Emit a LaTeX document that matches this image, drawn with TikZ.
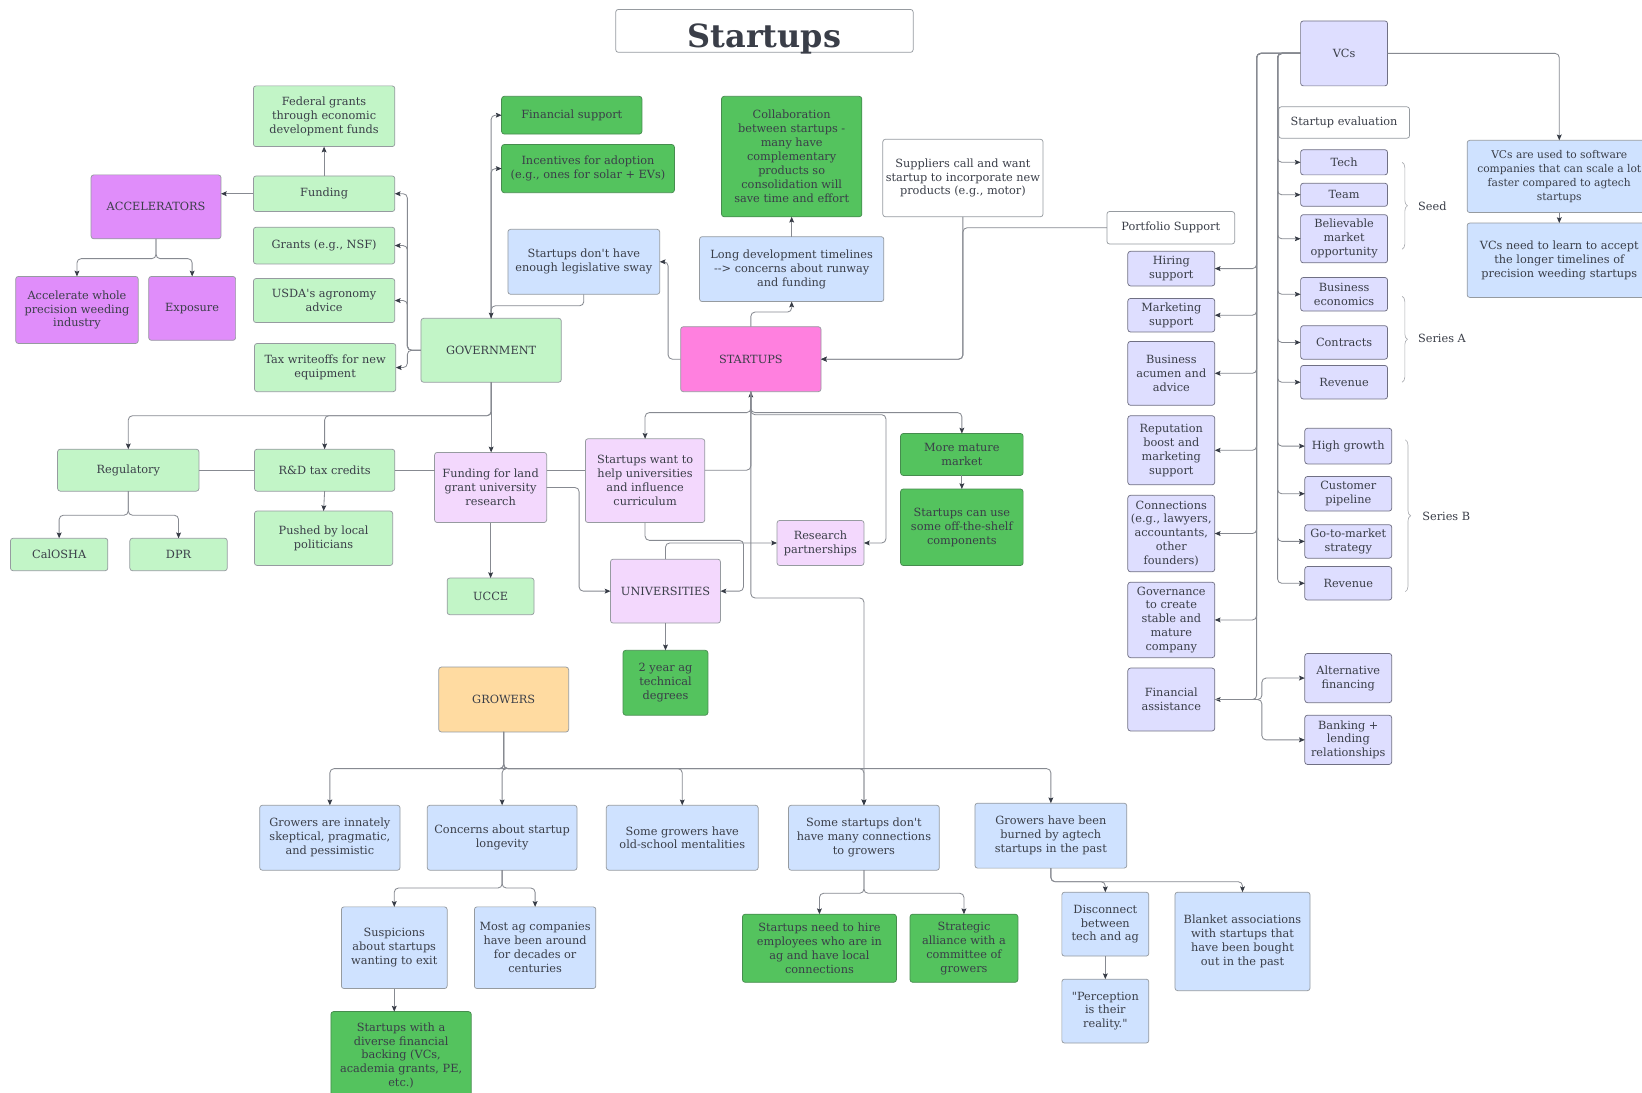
\documentclass[tikz,border=0pt]{standalone}
\usepackage{fontspec}
\setmainfont{DejaVu Serif}
\usetikzlibrary{arrows.meta,decorations.pathreplacing,calc}

\definecolor{txt}{RGB}{58,62,72}
\definecolor{bdr}{RGB}{150,155,160}
\definecolor{bdrd}{RGB}{112,112,132}
\definecolor{lgf}{RGB}{194,245,199}
\definecolor{dgf}{RGB}{84,195,94}
\definecolor{dgb}{RGB}{70,140,78}
\definecolor{lbf}{RGB}{207,226,255}
\definecolor{lavf}{RGB}{222,222,255}
\definecolor{purf}{RGB}{224,141,250}
\definecolor{lpf}{RGB}{243,216,253}
\definecolor{pinkf}{RGB}{255,128,223}
\definecolor{orf}{RGB}{255,219,161}
\definecolor{lnc}{RGB}{135,138,145}
\definecolor{arrc}{RGB}{55,60,70}

\newcommand\sq{\XeTeXglyph\XeTeXcharglyph"22\relax}
\newcommand\ap{\XeTeXglyph\XeTeXcharglyph"27\relax}

\tikzset{
  box/.style={draw=bdr, line width=0.7pt, rounded corners=2.5pt, inner sep=1pt, outer sep=0pt,
    align=center, text=txt, font=\fontsize{10.8}{13.3}\selectfont},
  lg/.style={box, fill=lgf},
  dg/.style={box, fill=dgf, draw=dgb},
  lb/.style={box, fill=lbf},
  lav/.style={box, fill=lavf, draw=bdrd},
  pur/.style={box, fill=purf},
  lp/.style={box, fill=lpf},
  pk/.style={box, fill=pinkf},
  orb/.style={box, fill=orf},
  wb/.style={box, fill=white},
  conn/.style={draw=lnc, line width=0.8pt, rounded corners=4pt},
  arr/.style={conn, -{Stealth[length=5.5pt,width=4.6pt,inset=1pt,color=arrc]}},
  brc/.style={draw=lnc!70, line width=0.6pt, decorate, decoration={brace,amplitude=5pt}},
  lbl/.style={anchor=west, text=txt, inner sep=0pt, font=\fontsize{10.8}{13.3}\selectfont}
}

\newcommand\bx[7]{\node[#1,minimum width={(#5)-(#3)},minimum height={(#6)-(#4)}] (#2) at ({((#3)+(#5))/2},{((#4)+(#6))/2}) {#7};}

\begin{document}
\begin{tikzpicture}[x=1pt,y=-1pt]
\useasboundingbox (0,0) rectangle (1568,1043);
\clip (0,0) rectangle (1568,1043);
\fill[white] (0,0) rectangle (1568,1043);

% title
\node[wb, font=\fontsize{30.5}{32}\bfseries\selectfont, text height=31pt, text depth=0pt,
  minimum width=284, minimum height=41] (title) at (730,29.5) {Startups};

% left cluster
\bx{lg}{fed}{242}{82}{377}{140}{Federal grants\\through economic\\development funds}
\bx{lg}{fund}{242}{168}{377}{202}{Funding}
\bx{lg}{grants}{242}{217}{377}{252}{Grants (e.g., NSF)}
\bx{lg}{usda}{242}{266}{377}{308}{USDA\ap s agronomy\\advice}
\bx{lg}{tax}{243}{328}{378}{374}{Tax writeoffs for new\\equipment}
\bx{pur}{acc}{87}{167}{211}{228}{ACCELERATORS}
\bx{pur}{accw}{15}{264}{132}{328}{Accelerate whole\\precision weeding\\industry}
\bx{pur}{expo}{142}{264}{225}{325}{Exposure}
\bx{lg}{gov}{402}{304}{536}{365}{GOVERNMENT}
\bx{dg}{fin}{479}{92}{613}{128}{Financial support}
\bx{dg}{inc}{479}{138}{644}{184}{Incentives for adoption\\(e.g., ones for solar + EVs)}
\bx{lb}{sway}{485}{219}{630}{281}{Startups don\ap t have\\enough legislative sway}
\bx{dg}{collab}{689}{92}{823}{207}{Collaboration\\between startups -\\many have\\complementary\\products so\\consolidation will\\save time and effort}
\bx{lb}{longdev}{668}{226}{844}{288}{Long development timelines\\-{}-> concerns about runway\\and funding}
\bx{wb}{sup}{843}{133}{996}{207}{Suppliers call and want\\startup to incorporate new\\products (e.g., motor)}
\bx{pk}{st}{650}{312}{784}{374}{STARTUPS}
\bx{wb}{port}{1057}{202}{1179}{233}{Portfolio Support}

% VCs
\bx{lav}{vcs}{1242}{20}{1325}{82}{VCs}
\bx{wb}{seval}{1221}{102}{1346}{132}{Startup evaluation}
\bx{lav}{tech}{1242}{143}{1325}{167}{Tech}
\bx{lav}{team}{1242}{175}{1325}{197}{Team}
\bx{lav}{bel}{1242}{205}{1325}{251}{Believable\\market\\opportunity}
\bx{lav}{bec}{1242}{265}{1325}{297}{Business\\economics}
\bx{lav}{contr}{1242}{311}{1325}{343}{Contracts}
\bx{lav}{reva}{1242}{349}{1325}{381}{Revenue}
\bx{lav}{hg}{1246}{409}{1329}{443}{High growth}
\bx{lav}{cp}{1246}{455}{1329}{488}{Customer\\pipeline}
\bx{lav}{gtm}{1246}{501}{1329}{533}{Go-to-market\\strategy}
\bx{lav}{revb}{1246}{541}{1329}{573}{Revenue}
\bx{lav}{alt}{1246}{624}{1329}{671}{Alternative\\financing}
\bx{lav}{bank}{1246}{683}{1329}{730}{Banking +\\lending\\relationships}
\bx{lav}{hire}{1077}{240}{1160}{273}{Hiring\\support}
\bx{lav}{mkt}{1077}{285}{1160}{317}{Marketing\\support}
\bx{lav}{acum}{1077}{326}{1160}{387}{Business\\acumen and\\advice}
\bx{lav}{rep}{1077}{397}{1160}{463}{Reputation\\boost and\\marketing\\support}
\bx{lav}{conn}{1077}{473}{1160}{546}{Connections\\(e.g., lawyers,\\accountants,\\other\\founders)}
\bx{lav}{govn}{1077}{556}{1160}{628}{Governance\\to create\\stable and\\mature\\company}
\bx{lav}{fa}{1077}{638}{1160}{698}{Financial\\assistance}
\bx{lb}{vcsw}{1401}{134}{1577}{203}{\fontsize{10.2}{13.3}\selectfont VCs are used to software\\\fontsize{10.2}{13.3}\selectfont companies that can scale a lot\\\fontsize{10.2}{13.3}\selectfont faster compared to agtech\\\fontsize{10.2}{13.3}\selectfont startups}
\bx{lb}{vcl}{1401}{213}{1577}{284}{VCs need to learn to accept\\the longer timelines of\\precision weeding startups}

\draw[brc] (1339,155) -- (1339,238);
\draw[brc] (1339,283) -- (1339,365);
\draw[brc] (1342,420) -- (1342,565);
\node[lbl] (seed) at (1354,197) {Seed};
\node[lbl] (sera) at (1354,323) {Series A};
\node[lbl] (serb) at (1358,493) {Series B};

% middle
\bx{lg}{reg}{55}{429}{190}{469}{Regulatory}
\bx{lg}{rd}{243}{429}{377}{469}{R\&D tax credits}
\bx{lp}{fland}{415}{432}{522}{499}{Funding for land\\grant university\\research}
\bx{lp}{swant}{559}{419}{673}{499}{Startups want to\\help universities\\and influence\\curriculum}
\bx{lp}{rp}{742}{497}{825}{540}{Research\\partnerships}
\bx{dg}{mm}{860}{414}{977}{454}{More mature\\market}
\bx{dg}{ots}{860}{467}{977}{540}{Startups can use\\some off-the-shelf\\components}
\bx{lg}{cal}{10}{514}{103}{545}{CalOSHA}
\bx{lg}{dpr}{124}{514}{217}{545}{DPR}
\bx{lg}{push}{243}{488}{375}{540}{Pushed by local\\politicians}
\bx{lg}{ucce}{427}{552}{510}{587}{UCCE}
\bx{lp}{univ}{583}{534}{688}{595}{UNIVERSITIES}
\bx{dg}{twoy}{595}{621}{676}{683}{2 year ag\\technical\\degrees}
\bx{orb}{grow}{419}{637}{543}{699}{GROWERS}

% bottom
\bx{lb}{gsk}{248}{769}{382}{831}{Growers are innately\\skeptical, pragmatic,\\and pessimistic}
\bx{lb}{conc}{408}{769}{551}{831}{Concerns about startup\\longevity}
\bx{lb}{old}{579}{769}{724}{831}{Some growers have\\old-school mentalities}
\bx{lb}{sdc}{753}{769}{897}{831}{Some startups don\ap t\\have many connections\\to growers}
\bx{lb}{burn}{931}{767}{1076}{829}{Growers have been\\burned by agtech\\startups in the past}
\bx{lb}{susp}{326}{866}{427}{944}{Suspicions\\about startups\\wanting to exit}
\bx{lb}{most}{453}{866}{569}{944}{Most ag companies\\have been around\\for decades or\\centuries}
\bx{dg}{div}{316}{966}{450}{1050}{Startups with a\\diverse financial\\backing (VCs,\\academia grants, PE,\\etc.)}
\bx{dg}{hire2}{709}{873}{856}{938}{Startups need to hire\\employees who are in\\ag and have local\\connections}
\bx{dg}{strat}{869}{873}{972}{938}{Strategic\\alliance with a\\committee of\\growers}
\bx{lb}{disc}{1014}{852}{1097}{913}{Disconnect\\between\\tech and ag}
\bx{lb}{perc}{1014}{935}{1097}{996}{\sq Perception\\is their\\reality.\sq}
\bx{lb}{blank}{1122}{852}{1251}{946}{Blanket associations\\with startups that\\have been bought\\out in the past}

% ---------- connectors ----------
\draw[arr] (fund.north) -- (fed.south);
\draw[arr] (fund.west) -- (fund.west -| acc.east);
\draw[arr] (acc.south) -- ++(0,19) -| (accw.north);
\draw[arr] (acc.south) -- ++(0,19) -| (expo.north);

\coordinate (gvx) at (389,0);
\draw[arr] (gov.west) -- (gov.west -| gvx) |- (fund.east);
\draw[arr] (gov.west) -- (gov.west -| gvx) |- (grants.east);
\draw[arr] (gov.west) -- (gov.west -| gvx) |- (usda.east);
\draw[arr] (gov.west) -- (gov.west -| gvx) |- (tax.east);

\draw[arr] (gov.north) |- (fin.west);
\draw[arr] (gov.north) |- (inc.west);
\draw[arr] (sway.south) -- ++(0,11) -| (gov.north);

\draw[arr] (st.west) -- ++(-12,0) |- (sway.east);
\draw[arr] (st.north) -- ++(0,-14) -| (longdev.south);
\draw[arr] (longdev.north) -- (collab.south);
\draw[arr] (sup.south) |- (st.east);
\draw[arr] (port.west) -| (st.east -| sup.south) -- (st.east);

% VCs
\coordinate (vin) at (1220,51);
\coordinate (vout) at (1200,51);
\foreach \n in {tech,team,bel,bec,contr,reva,hg,cp,gtm,revb}
  \draw[arr] (vcs.west) -- (vin) |- (\n.west);
\foreach \n in {hire,mkt,acum,rep,conn,govn,fa}
  \draw[arr] (vcs.west) -- (vout) |- (\n.east);
\draw[arr] (fa.east) -- ++(45,0) |- (alt.west);
\draw[arr] (fa.east) -- ++(45,0) |- (bank.west);
\draw[arr] (vcs.east) -| (vcsw.north);
\draw[arr] (vcsw.south) -- (vcl.north);

% government down
\draw[arr] (gov.south) -- ++(0,32) -| (reg.north);
\draw[arr] (gov.south) -- ++(0,32) -| (rd.north);
\draw[arr] (gov.south) -- (gov.south |- fland.north);

\coordinate (row) at (0,449);
\draw[conn] (reg.east) -- (rd.west);
\draw[conn] (rd.east) -- (rd.east -| fland.west);
\draw[conn] (fland.east |- row) -- (swant.west |- row);
\draw[arr] (swant.east |- row) -| (st.south);
\draw[arr] (fland.east) -- ++(31,0) |- (univ.west);

\draw[arr] (st.south) -- ++(0,20) -| (swant.north);
\draw[arr] (st.south) -- ++(0,20) -| (mm.north);
\draw[arr] (st.south) -- ++(0,22) -- ++(129,0) |- (rp.east);
\draw[arr] (st.south) -- ++(0,197) -| (sdc.north);

\draw[arr] (swant.south) -- ++(0,17) -- ++(94,0) |- (univ.east);
\draw[arr] (univ.north) |- (rp.west);
\draw[arr] (univ.south) -- (univ.south |- twoy.north);
\draw[arr] (fland.south) -- (fland.south |- ucce.north);
\draw[arr] (reg.south) -- ++(0,23) -| (cal.north);
\draw[arr] (reg.south) -- ++(0,23) -| (dpr.north);
\draw[arr] (rd.south) -- (push.north);
\draw[arr] (mm.south) -- (ots.north);

% growers
\foreach \n in {gsk,conc,old,sdc,burn}
  \draw[arr] (grow.south) -- ++(0,35) -| (\n.north);
\draw[arr] (conc.south) -- ++(0,17) -| (susp.north);
\draw[arr] (conc.south) -- ++(0,17) -| (most.north);
\draw[arr] (susp.south) -- (susp.south |- div.north);
\draw[arr] (sdc.south) -- ++(0,22) -| (hire2.north);
\draw[arr] (sdc.south) -- ++(0,22) -| (strat.north);
\draw[arr] (burn.south) -- ++(0,13) -| (disc.north);
\draw[arr] (burn.south) -- ++(0,13) -| (blank.north);
\draw[arr] (disc.south) -- (perc.north);
\end{tikzpicture}
\end{document}
